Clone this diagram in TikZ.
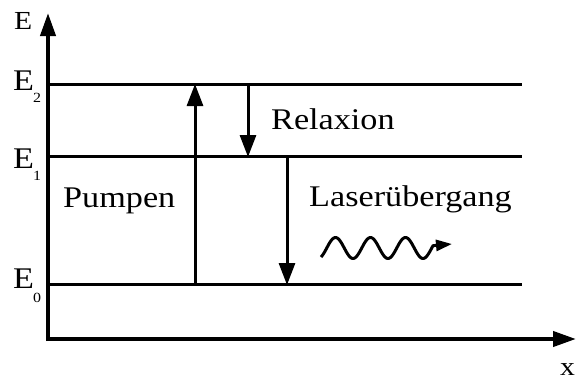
\documentclass[tikz,border=0pt]{standalone}
\usepackage{fontspec}
\setmainfont[FakeStretch=1.14]{Liberation Serif}
\usetikzlibrary{arrows.meta}

\begin{document}
\begin{tikzpicture}[x=1pt, y=-1pt,
  axis/.style={line width=4pt, -{Triangle[length=23pt,width=15pt]}},
  level/.style={line width=3pt},
  trans/.style={line width=3pt, -{Triangle[length=22pt,width=16pt]}},
  wave/.style={line width=3pt, line join=round, -{Triangle[length=16pt,width=11pt]}},
  lbl/.style={inner sep=0pt, anchor=base west, font=\fontsize{30}{36}\selectfont},
  axlbl/.style={inner sep=0pt, anchor=base west, font=\fontsize{26}{30}\selectfont},
  sub/.style={inner sep=0pt, anchor=base west, font=\fontsize{14}{16}\selectfont}]
\useasboundingbox (0,0) rectangle (576,380);

% axes
\coordinate (O) at (48,339);
\coordinate (ytop) at (48,13);
\coordinate (xend) at (576,339);
\draw[axis] (48,341) -- (ytop);
\draw[axis] (46,339) -- (xend);
\node[axlbl] (Elab) at (14,29) {E};
\node[axlbl] (xlab) at (560,375) {x};

% energy levels
\coordinate (e2L) at (48,84);   \coordinate (e2R) at (522,84);
\coordinate (e1L) at (48,156);  \coordinate (e1R) at (522,156);
\coordinate (e0L) at (48,284);  \coordinate (e0R) at (522,284);
\draw[level] (e2L) -- (e2R);
\draw[level] (e1L) -- (e1R);
\draw[level] (e0L) -- (e0R);

\node[lbl] (E2) at (13,90) {E};
\node[sub] (E2s) at (33,102) {2};
\node[lbl] (E1) at (13,168) {E};
\node[sub] (E1s) at (33,180) {1};
\node[lbl] (E0) at (13,288) {E};
\node[sub] (E0s) at (33,302) {0};

% transitions
\coordinate (pumpLo) at (195,284);
\coordinate (pumpHi) at (195,84);
\coordinate (relHi) at (248,84);
\coordinate (relLo) at (248,157);
\coordinate (lasHi) at (287,156);
\coordinate (lasLo) at (287,285);
\draw[trans] (pumpLo) -- (pumpHi);
\draw[trans] (relHi) -- (relLo);
\draw[trans] (lasHi) -- (lasLo);

\node[lbl] (pump) at (63,207) {Pumpen};
\node[lbl] (relax) at (271,129) {Relaxion};
\node[lbl] (laser) at (309,206) {Laserübergang};

% emitted photon (period 35pt, amplitude 10.5pt)
\coordinate (photonTip) at (452,244);
\draw[wave] plot[domain=321:433, samples=90, smooth]
  (\x, {248+10.5*cos((\x-318)*10.2857)}) -- (photonTip);
\end{tikzpicture}
\end{document}
